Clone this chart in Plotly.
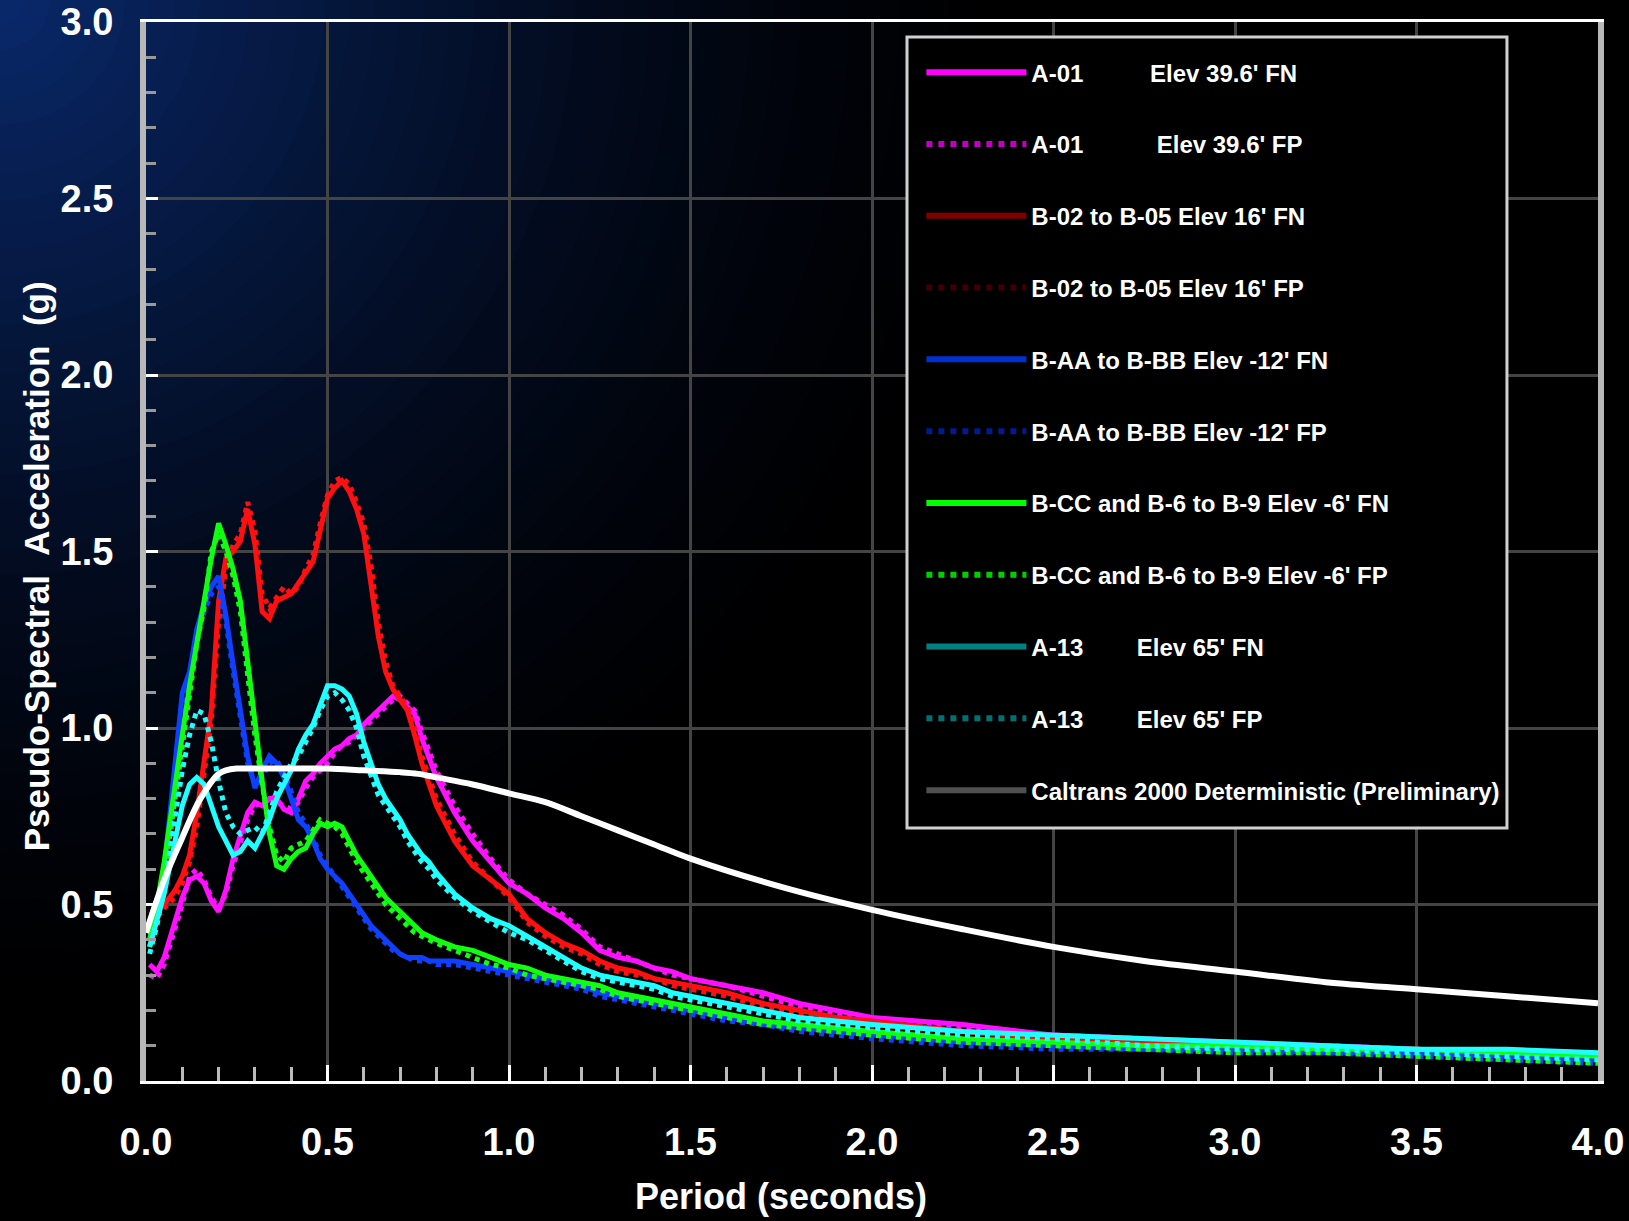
import plotly.graph_objects as go

# ---------------- data ----------------
PERIOD = [0.01, 0.03, 0.05, 0.08, 0.10, 0.12, 0.14, 0.16, 0.18, 0.20,
          0.22, 0.24, 0.26, 0.28, 0.30, 0.32, 0.34, 0.36, 0.38, 0.40,
          0.42, 0.44, 0.46, 0.48, 0.50, 0.52, 0.54, 0.56, 0.58, 0.60,
          0.62, 0.64, 0.66, 0.68, 0.70, 0.72, 0.74, 0.76, 0.78, 0.80,
          0.85, 0.90, 0.95, 1.00, 1.05, 1.10, 1.15, 1.20, 1.25, 1.30,
          1.35, 1.40, 1.45, 1.50, 1.60, 1.70, 1.80, 1.90, 2.00, 2.25,
          2.50, 2.75, 3.00, 3.25, 3.50, 3.75, 4.00]

A01_FN = [0.33, 0.31, 0.35, 0.45, 0.52, 0.57, 0.58, 0.56, 0.51, 0.48,
          0.54, 0.63, 0.70, 0.76, 0.79, 0.78, 0.80, 0.80, 0.77, 0.76,
          0.80, 0.85, 0.87, 0.90, 0.92, 0.94, 0.95, 0.97, 0.98, 1.01,
          1.03, 1.05, 1.07, 1.09, 1.08, 1.06, 1.04, 0.97, 0.91, 0.86,
          0.76, 0.68, 0.62, 0.56, 0.53, 0.49, 0.46, 0.42, 0.37, 0.35,
          0.34, 0.32, 0.31, 0.29, 0.27, 0.25, 0.22, 0.20, 0.18, 0.16,
          0.13, 0.12, 0.11, 0.10, 0.09, 0.08, 0.07]
A01_FP = [0.30, 0.29, 0.33, 0.43, 0.50, 0.58, 0.60, 0.57, 0.52, 0.49,
          0.53, 0.61, 0.68, 0.74, 0.78, 0.79, 0.81, 0.79, 0.78, 0.77,
          0.79, 0.83, 0.86, 0.88, 0.90, 0.93, 0.95, 0.96, 0.98, 1.00,
          1.02, 1.04, 1.06, 1.08, 1.09, 1.07, 1.05, 0.99, 0.93, 0.88,
          0.78, 0.70, 0.63, 0.57, 0.53, 0.50, 0.47, 0.43, 0.38, 0.36,
          0.34, 0.32, 0.30, 0.29, 0.27, 0.24, 0.21, 0.19, 0.17, 0.15,
          0.13, 0.12, 0.10, 0.10, 0.09, 0.08, 0.07]
B02_FN = [0.47, 0.48, 0.50, 0.54, 0.58, 0.64, 0.76, 0.90, 1.05, 1.36,
          1.48, 1.50, 1.53, 1.62, 1.52, 1.33, 1.31, 1.36, 1.37, 1.38,
          1.41, 1.44, 1.47, 1.56, 1.65, 1.68, 1.70, 1.67, 1.62, 1.55,
          1.40, 1.26, 1.16, 1.11, 1.08, 1.05, 0.98, 0.90, 0.84, 0.78,
          0.68, 0.61, 0.57, 0.53, 0.46, 0.42, 0.39, 0.37, 0.34, 0.32,
          0.31, 0.29, 0.28, 0.27, 0.25, 0.22, 0.20, 0.18, 0.17, 0.14,
          0.12, 0.11, 0.10, 0.09, 0.09, 0.08, 0.07]
B02_FP = [0.45, 0.46, 0.49, 0.52, 0.56, 0.62, 0.72, 0.86, 1.02, 1.30,
          1.45, 1.52, 1.55, 1.64, 1.56, 1.38, 1.34, 1.37, 1.40, 1.38,
          1.40, 1.45, 1.49, 1.58, 1.66, 1.70, 1.71, 1.69, 1.64, 1.58,
          1.46, 1.30, 1.19, 1.12, 1.09, 1.06, 1.00, 0.92, 0.86, 0.80,
          0.70, 0.62, 0.57, 0.52, 0.45, 0.41, 0.38, 0.36, 0.33, 0.31,
          0.30, 0.29, 0.27, 0.26, 0.24, 0.21, 0.19, 0.18, 0.16, 0.14,
          0.12, 0.11, 0.10, 0.09, 0.08, 0.07, 0.06]
BAA_FN = [0.42, 0.50, 0.60, 0.90, 1.10, 1.16, 1.28, 1.35, 1.40, 1.43,
          1.32, 1.18, 1.04, 0.92, 0.83, 0.88, 0.92, 0.90, 0.86, 0.80,
          0.74, 0.72, 0.68, 0.63, 0.60, 0.58, 0.56, 0.53, 0.50, 0.47,
          0.44, 0.42, 0.40, 0.38, 0.36, 0.35, 0.35, 0.35, 0.34, 0.34,
          0.34, 0.33, 0.32, 0.31, 0.30, 0.29, 0.28, 0.27, 0.25, 0.24,
          0.23, 0.22, 0.21, 0.20, 0.18, 0.16, 0.15, 0.14, 0.13, 0.11,
          0.10, 0.09, 0.09, 0.08, 0.08, 0.07, 0.06]
BAA_FP = [0.40, 0.48, 0.58, 0.86, 1.06, 1.14, 1.25, 1.33, 1.38, 1.40,
          1.30, 1.16, 1.02, 0.90, 0.84, 0.86, 0.90, 0.91, 0.87, 0.82,
          0.76, 0.73, 0.69, 0.64, 0.61, 0.58, 0.55, 0.52, 0.49, 0.46,
          0.43, 0.41, 0.39, 0.37, 0.36, 0.35, 0.34, 0.34, 0.34, 0.33,
          0.33, 0.32, 0.31, 0.30, 0.29, 0.28, 0.27, 0.26, 0.24, 0.23,
          0.22, 0.21, 0.20, 0.19, 0.17, 0.16, 0.14, 0.13, 0.12, 0.10,
          0.09, 0.09, 0.08, 0.08, 0.07, 0.06, 0.05]
BCC_FN = [0.40, 0.50, 0.62, 0.85, 0.98, 1.12, 1.25, 1.36, 1.48, 1.58,
          1.52, 1.45, 1.36, 1.18, 1.00, 0.85, 0.70, 0.61, 0.60, 0.63,
          0.65, 0.66, 0.70, 0.73, 0.72, 0.73, 0.72, 0.68, 0.64, 0.61,
          0.58, 0.55, 0.52, 0.50, 0.48, 0.46, 0.44, 0.42, 0.41, 0.40,
          0.38, 0.37, 0.35, 0.33, 0.32, 0.30, 0.29, 0.28, 0.27, 0.25,
          0.24, 0.23, 0.22, 0.21, 0.19, 0.17, 0.16, 0.15, 0.14, 0.12,
          0.11, 0.10, 0.10, 0.09, 0.09, 0.08, 0.07]
BCC_FP = [0.38, 0.47, 0.58, 0.80, 0.95, 1.10, 1.24, 1.34, 1.50, 1.55,
          1.50, 1.43, 1.33, 1.15, 0.98, 0.84, 0.72, 0.64, 0.62, 0.66,
          0.67, 0.68, 0.71, 0.74, 0.73, 0.72, 0.70, 0.66, 0.62, 0.59,
          0.56, 0.53, 0.50, 0.48, 0.46, 0.44, 0.42, 0.41, 0.40, 0.39,
          0.37, 0.35, 0.33, 0.32, 0.30, 0.29, 0.28, 0.27, 0.26, 0.24,
          0.23, 0.22, 0.21, 0.20, 0.18, 0.16, 0.15, 0.14, 0.13, 0.11,
          0.10, 0.09, 0.08, 0.08, 0.07, 0.06, 0.05]
A13_FN = [0.38, 0.45, 0.53, 0.68, 0.78, 0.84, 0.86, 0.84, 0.78, 0.72,
          0.68, 0.64, 0.65, 0.68, 0.66, 0.70, 0.74, 0.80, 0.84, 0.88,
          0.94, 0.98, 1.01, 1.07, 1.12, 1.12, 1.11, 1.09, 1.04, 0.96,
          0.90, 0.84, 0.80, 0.77, 0.74, 0.70, 0.67, 0.64, 0.62, 0.59,
          0.53, 0.49, 0.46, 0.44, 0.41, 0.38, 0.35, 0.32, 0.30, 0.29,
          0.28, 0.27, 0.25, 0.24, 0.22, 0.20, 0.18, 0.17, 0.16, 0.14,
          0.13, 0.12, 0.11, 0.10, 0.09, 0.09, 0.08]
A13_FP = [0.36, 0.44, 0.55, 0.76, 0.88, 0.98, 1.05, 1.04, 0.96, 0.85,
          0.76, 0.72, 0.70, 0.71, 0.72, 0.70, 0.76, 0.82, 0.86, 0.90,
          0.92, 0.96, 1.00, 1.05, 1.09, 1.10, 1.08, 1.05, 1.00, 0.92,
          0.86, 0.81, 0.78, 0.75, 0.72, 0.68, 0.65, 0.62, 0.60, 0.57,
          0.52, 0.48, 0.45, 0.42, 0.40, 0.37, 0.34, 0.31, 0.29, 0.28,
          0.27, 0.26, 0.24, 0.23, 0.21, 0.19, 0.17, 0.16, 0.15, 0.13,
          0.12, 0.10, 0.09, 0.09, 0.08, 0.07, 0.06]

CALTRANS_T = [0.0, 0.05, 0.10, 0.15, 0.20, 0.22, 0.25, 0.30, 0.40, 0.50,
              0.60, 0.70, 0.75, 0.80, 0.90, 1.00, 1.10, 1.20, 1.30, 1.40,
              1.50, 1.75, 2.00, 2.25, 2.50, 2.75, 3.00, 3.25, 3.50, 3.75, 4.00]
CALTRANS_SA = [0.42, 0.57, 0.69, 0.80, 0.87, 0.88, 0.885, 0.885, 0.885, 0.885,
               0.88, 0.875, 0.87, 0.86, 0.84, 0.815, 0.79, 0.75, 0.71, 0.67,
               0.63, 0.55, 0.485, 0.43, 0.38, 0.34, 0.31, 0.28, 0.26, 0.24, 0.22]

NB = "\u00a0"
LABELS = [
    "A-01" + NB * 10 + "Elev 39.6' FN",
    "A-01" + NB * 11 + "Elev 39.6' FP",
    "B-02 to B-05 Elev 16' FN",
    "B-02 to B-05 Elev 16' FP",
    "B-AA to B-BB Elev -12' FN",
    "B-AA to B-BB Elev -12' FP",
    "B-CC and B-6 to B-9 Elev -6' FN",
    "B-CC and B-6 to B-9 Elev -6' FP",
    "A-13" + NB * 8 + "Elev 65' FN",
    "A-13" + NB * 8 + "Elev 65' FP",
    "Caltrans 2000 Deterministic (Preliminary)",
]
SERIES = [A01_FN, A01_FP, B02_FN, B02_FP, BAA_FN, BAA_FP, BCC_FN, BCC_FP, A13_FN, A13_FP]
X_TITLE = "Period (seconds)"
Y_TITLE = "Pseudo-Spectral" + NB * 2 + "Acceleration" + NB * 2 + "(g)"

# styles
LINE_COLORS = ["#ff10ff", "#ff10ff", "#ff1010", "#ff1010", "#1040ff", "#1040ff",
               "#10ff10", "#10ff10", "#20ffff", "#20ffff"]
LEGEND_COLORS = ["#ff00ff", "#c000c0", "#800000", "#400000", "#0030d0", "#001a90",
                 "#00ff00", "#00d000", "#008080", "#007070", "#505050"]
DASHES = ["solid", "dot"] * 5

FONT = "Liberation Sans, Arial, sans-serif"

fig = go.Figure()

# background gradient (radial from top-left corner)
navy = (10, 42, 110)
R = 1050
n = 42
for i in range(n):
    r = R * (1 - i / n)
    f = (i / n) ** 1.5
    col = "rgb(%d,%d,%d)" % tuple(int(c * f) for c in navy)
    fig.add_shape(type="circle", xref="paper", yref="paper",
                  xsizemode="pixel", ysizemode="pixel",
                  xanchor=-0.1006, yanchor=1.0208,
                  x0=-r, x1=r, y0=-r, y1=r,
                  fillcolor=col, line=dict(width=0), layer="below")

# legend box (drawn as a framed black panel; legend entries sit on top)
fig.add_shape(type="rect", xref="paper", yref="paper",
              x0=0.5241, x1=0.9373, y0=0.2389, y1=0.9858,
              fillcolor="#000000", line=dict(color="#d0d0d0", width=3), layer="above")

# data traces
for ys, col, dash in zip(SERIES, LINE_COLORS, DASHES):
    fig.add_trace(go.Scatter(x=PERIOD, y=ys, mode="lines", showlegend=False,
                             line=dict(color=col, width=5, dash=dash)))
fig.add_trace(go.Scatter(x=CALTRANS_T, y=CALTRANS_SA, mode="lines", showlegend=False,
                         line=dict(color="#ffffff", width=6, shape="spline")))

# legend entries
for k, (lab, col) in enumerate(zip(LABELS, LEGEND_COLORS)):
    dash = "solid" if (k % 2 == 0 or k == 10) else "dot"
    fig.add_trace(go.Scatter(x=[None], y=[None], mode="lines", name=lab,
                             legendgroup="g%d" % k,
                             line=dict(color=col, width=6, dash=dash)))

fig.update_layout(
    width=1629, height=1221,
    margin=dict(l=146, r=31, t=22, b=140, autoexpand=False),
    paper_bgcolor="#000000", plot_bgcolor="rgba(0,0,0,0)",
    font=dict(family=FONT, color="white"),
    legend=dict(x=0.534, y=0.9735, xanchor="left", yanchor="top",
                bgcolor="rgba(0,0,0,0)", borderwidth=0,
                font=dict(family=FONT, size=24, color="white", weight="bold"),
                traceorder="grouped", tracegroupgap=37.6,
                itemwidth=100),
    annotations=[
        dict(text="<b>" + X_TITLE + "</b>", xref="paper", yref="paper",
             x=0.437, y=-0.1095, xanchor="center", yanchor="middle", showarrow=False,
             font=dict(family=FONT, size=36, color="white")),
        dict(text="<b>" + Y_TITLE + "</b>", xref="paper", yref="paper",
             x=-0.0758, y=0.486, xanchor="center", yanchor="middle",
             showarrow=False, textangle=-90,
             font=dict(family=FONT, size=35, color="white")),
    ],
)

fig.update_xaxes(range=[0, 4], dtick=0.5, tick0=0, tickformat=".1f", automargin=False,
                 showgrid=True, gridcolor="#444444", gridwidth=3,
                 showline=True, linecolor="#ffffff", linewidth=3, mirror=True,
                 ticks="inside", ticklen=16, tickwidth=3, tickcolor="#ffffff",
                 minor=dict(dtick=0.1, ticks="inside", ticklen=14, tickwidth=3,
                            tickcolor="#bbbbbb", showgrid=False),
                 ticklabelstandoff=25, zeroline=False,
                 tickfont=dict(family=FONT, size=38, color="white", weight="bold"))
fig.update_yaxes(range=[0, 3], dtick=0.5, tick0=0, tickformat=".1f", automargin=False,
                 showgrid=True, gridcolor="#444444", gridwidth=3,
                 showline=True, linecolor="#b8b8b8", linewidth=6, mirror=True,
                 ticks="inside", ticklen=12, tickwidth=3, tickcolor="#ffffff",
                 minor=dict(dtick=0.1, ticks="inside", ticklen=10, tickwidth=3,
                            tickcolor="#999999", showgrid=False),
                 ticklabelstandoff=19, zeroline=False,
                 tickfont=dict(family=FONT, size=38, color="white", weight="bold"))

fig.write_html("out.html", config={"displayModeBar": False},
               post_script="document.body.style.margin='0';")
